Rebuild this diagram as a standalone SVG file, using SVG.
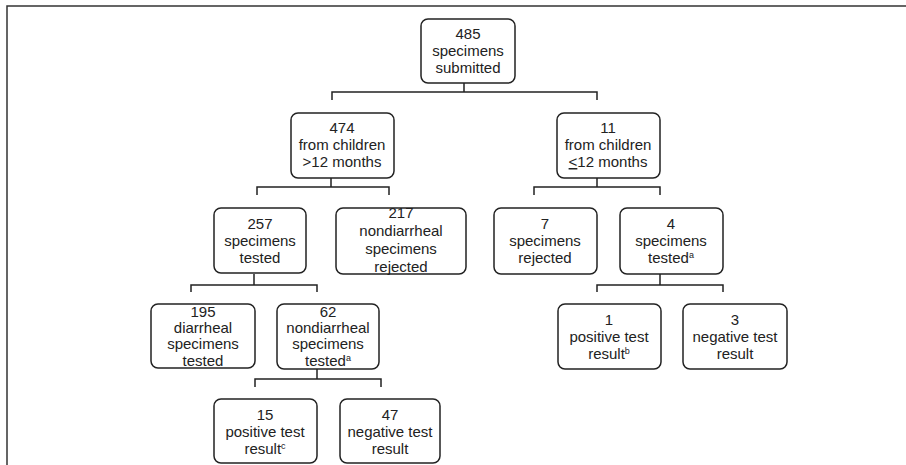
<svg xmlns="http://www.w3.org/2000/svg" width="906" height="465" viewBox="0 0 906 465">
<style>
.box{fill:#fff;stroke:#222;stroke-width:1.5}
.t{font-family:"Liberation Sans",Arial,sans-serif;font-size:15px;fill:#222;text-anchor:middle}
.sup{font-size:9px}
.c{fill:none;stroke:#222;stroke-width:1.5}
.g{stroke:#ccc;stroke-width:1.5}
.frame{fill:none;stroke:#333;stroke-width:1.5}
</style>
<rect width="906" height="465" fill="#fff"/>
<path class="frame" d="M7,465 V6 H906"/>
<g id="connectors">
<path class="c" d="M464,83 V92 M332,100 V92 H597 V100"/>
<path class="c" d="M331,178 V187 M257,195 V187 H389 V195"/>
<path class="c" d="M597,178 V187 M534,195 V187 H660 V195"/>
<path class="c" d="M254,274 V285 M191,292 V285 H317 V292"/>
<path class="c" d="M660,274 V285 M597,292 V285 H723 V292"/>
<path class="c" d="M317,369 V379 M255,387 V379 H381 V387"/>
<path class="g" d="M464,73 V82 M331,168 V177 M597,168 V177 M254,264 V273 M660,264 V273 M317,359 V368"/>
</g>
<g id="n485">
<rect class="box" x="421" y="19" width="94" height="64" rx="7"/>
<text class="t" x="468" y="39">485</text>
<text class="t" x="468" y="56">specimens</text>
<text class="t" x="468" y="73">submitted</text>
</g>
<g id="n474">
<rect class="box" x="291" y="113" width="103" height="65" rx="7"/>
<text class="t" x="342" y="133">474</text>
<text class="t" x="342" y="150">from children</text>
<text class="t" x="342" y="167">&gt;12 months</text>
</g>
<g id="n11">
<rect class="box" x="557" y="113" width="103" height="65" rx="7"/>
<text class="t" x="608" y="133">11</text>
<text class="t" x="608" y="150">from children</text>
<text class="t" x="608" y="167"><tspan text-decoration="underline">&lt;</tspan>12 months</text>
</g>
<g id="n257">
<rect class="box" x="214" y="208" width="92" height="65" rx="7"/>
<text class="t" x="260" y="229">257</text>
<text class="t" x="260" y="246">specimens</text>
<text class="t" x="260" y="263">tested</text>
</g>
<g id="n217">
<rect class="box" x="336" y="208" width="130" height="66" rx="7"/>
<text class="t" x="401" y="218">217</text>
<text class="t" x="401" y="236">nondiarrheal</text>
<text class="t" x="401" y="254">specimens</text>
<text class="t" x="401" y="272">rejected</text>
</g>
<g id="n7">
<rect class="box" x="494" y="208" width="103" height="66" rx="7"/>
<text class="t" x="545" y="229">7</text>
<text class="t" x="545" y="246">specimens</text>
<text class="t" x="545" y="263">rejected</text>
</g>
<g id="n4">
<rect class="box" x="620" y="208" width="103" height="66" rx="7"/>
<text class="t" x="671" y="229">4</text>
<text class="t" x="671" y="246">specimens</text>
<text class="t" x="671" y="263">tested<tspan class="sup" dy="-5">a</tspan></text>
</g>
<g id="n195">
<rect class="box" x="151" y="304" width="104" height="64" rx="7"/>
<text class="t" x="203" y="317">195</text>
<text class="t" x="203" y="333">diarrheal</text>
<text class="t" x="203" y="349">specimens</text>
<text class="t" x="203" y="366">tested</text>
</g>
<g id="n62">
<rect class="box" x="277" y="304" width="102" height="65" rx="7"/>
<text class="t" x="328" y="317">62</text>
<text class="t" x="328" y="333">nondiarrheal</text>
<text class="t" x="328" y="349">specimens</text>
<text class="t" x="328" y="366">tested<tspan class="sup" dy="-5">a</tspan></text>
</g>
<g id="n1">
<rect class="box" x="558" y="304" width="103" height="65" rx="7"/>
<text class="t" x="609" y="325">1</text>
<text class="t" x="609" y="342">positive test</text>
<text class="t" x="609" y="359">result<tspan class="sup" dy="-5">b</tspan></text>
</g>
<g id="n3">
<rect class="box" x="683" y="304" width="104" height="65" rx="7"/>
<text class="t" x="735" y="325">3</text>
<text class="t" x="735" y="342">negative test</text>
<text class="t" x="735" y="359">result</text>
</g>
<g id="n15">
<rect class="box" x="214" y="399" width="103" height="64" rx="7"/>
<text class="t" x="265" y="420">15</text>
<text class="t" x="265" y="437">positive test</text>
<text class="t" x="265" y="454">result<tspan class="sup" dy="-5">c</tspan></text>
</g>
<g id="n47">
<rect class="box" x="340" y="399" width="100" height="64" rx="7"/>
<text class="t" x="390" y="420">47</text>
<text class="t" x="390" y="437">negative test</text>
<text class="t" x="390" y="454">result</text>
</g>
</svg>
